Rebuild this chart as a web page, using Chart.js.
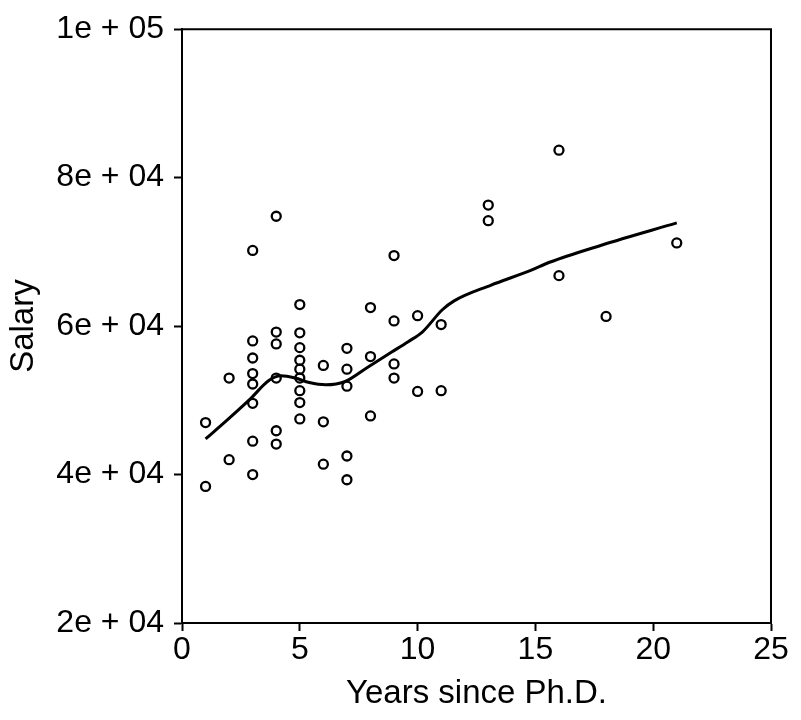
<!DOCTYPE html>
<html>
<head>
<meta charset="utf-8">
<script src="https://cdn.jsdelivr.net/npm/chart.js@4.4.1/dist/chart.umd.min.js"></script>
<style>
  html, body { margin: 0; padding: 0; background: #fff; }
  #wrap { width: 801px; height: 720px; }
</style>
</head>
<body>
<div id="wrap"><canvas id="salary_chart" width="801" height="720"></canvas></div>
<script>
// faculty salaries vs years since degree
let yearsSincePhd = [1, 1, 2, 2,
    3, 3, 3, 3, 3, 3, 3, 3,
    4, 4, 4, 4, 4, 4,
    5, 5, 5, 5, 5, 5, 5, 5, 5,
    6, 6, 6,
    7, 7, 7, 7, 7,
    8, 8, 8,
    9, 9, 9, 9,
    10, 10, 11, 11, 13, 13, 16, 16, 18, 21];
let salary = [47000, 38400, 53000, 42000,
    70200, 58000, 55700, 53600, 52200, 49600, 44500, 40000,
    74800, 59200, 57600, 53000, 45900, 44100,
    62900, 59100, 57100, 55400, 54200, 53000, 51300, 49700, 47500,
    54700, 47100, 41400,
    57000, 54200, 51900, 42500, 39300,
    62500, 55900, 47900,
    69500, 60700, 54900, 53000,
    61400, 51200, 60200, 51300, 76300, 74200, 83700, 66800, 61300, 71200];

// smooth (lowess) curve
let smoothYears = [1.0, 1.9, 2.9, 3.7, 4.2, 4.8, 5.4, 6.1, 6.9, 7.9, 8.9, 9.6, 10.2, 11.05, 11.55, 13.1, 14.8, 15.6, 17.8, 21];
let smoothSalary = [44800, 47300, 50200, 52700, 53300, 53000, 52400, 52100, 52500, 54500, 56500, 57900, 59200, 62200, 63400, 65500, 67500, 68600, 70900, 73900];

let xTicks = [0, 5, 10, 15, 20, 25];
let yTicks = [20000, 40000, 60000, 80000, 100000];
let yTickLabels = ["2e + 04", "4e + 04", "6e + 04", "8e + 04", "1e + 05"];

let fontFamily = "'Liberation Sans', Arial, sans-serif";

let scatterPoints = yearsSincePhd.map((x, i) => ({x: x, y: salary[i]}));
let smoothPoints = smoothYears.map((x, i) => ({x: x, y: smoothSalary[i]}));

// top and right sides of the box
let framePlugin = {
    id: "frame",
    afterDraw(chart) {
        let a = chart.chartArea;
        let ctx = chart.ctx;
        ctx.save();
        ctx.strokeStyle = "#000";
        ctx.lineWidth = 2;
        ctx.beginPath();
        ctx.moveTo(a.left, a.top);
        ctx.lineTo(a.right, a.top);
        ctx.lineTo(a.right, a.bottom);
        ctx.stroke();
        ctx.restore();
    }
};

var salaryChart = new Chart("salary_chart", {
    type: "scatter",
    data: {
        datasets: [{
            type: "line",
            data: smoothPoints,
            borderColor: "#000",
            borderWidth: 3,
            pointRadius: 0,
            cubicInterpolationMode: "monotone",
            fill: false
        }, {
            data: scatterPoints,
            pointRadius: 4.5,
            pointBorderWidth: 2.3,
            pointBorderColor: "#000",
            pointBackgroundColor: "rgba(0,0,0,0)"
        }]
    },
    options: {
        responsive: false,
        animation: false,
        devicePixelRatio: 1,
        layout: {
            padding: {left: 0, top: 28, right: 30, bottom: 0}
        },
        plugins: {
            legend: {display: false},
            tooltip: {enabled: false}
        },
        scales: {
            x: {
                type: "linear",
                min: 0,
                max: 25,
                afterBuildTicks(scale) {
                    scale.ticks = xTicks.map(v => ({value: v}));
                },
                afterFit(scale) {
                    scale.height = 97;
                },
                ticks: {
                    color: "#000",
                    padding: 0,
                    font: {family: fontFamily, size: 32},
                    maxRotation: 0
                },
                grid: {
                    drawOnChartArea: false,
                    tickLength: 8,
                    tickColor: "#000",
                    tickWidth: 2
                },
                border: {color: "#000", width: 2},
                title: {
                    display: true,
                    text: "Years since Ph.D.",
                    color: "#000",
                    font: {family: fontFamily, size: 33},
                    padding: {top: 0, bottom: 6}
                }
            },
            y: {
                type: "linear",
                min: 20000,
                max: 100000,
                afterBuildTicks(scale) {
                    scale.ticks = yTicks.map(v => ({value: v}));
                },
                afterFit(scale) {
                    scale.width = 182;
                },
                ticks: {
                    color: "#000",
                    padding: 10,
                    font: {family: fontFamily, size: 32},
                    callback: function(value) {
                        return yTickLabels[yTicks.indexOf(value)];
                    }
                },
                grid: {
                    drawOnChartArea: false,
                    tickLength: 8,
                    tickColor: "#000",
                    tickWidth: 2
                },
                border: {color: "#000", width: 2},
                title: {
                    display: true,
                    text: "Salary",
                    color: "#000",
                    font: {family: fontFamily, size: 33},
                    padding: {top: 4, bottom: 0}
                }
            }
        }
    },
    plugins: [framePlugin]
});
</script>
</body>
</html>
